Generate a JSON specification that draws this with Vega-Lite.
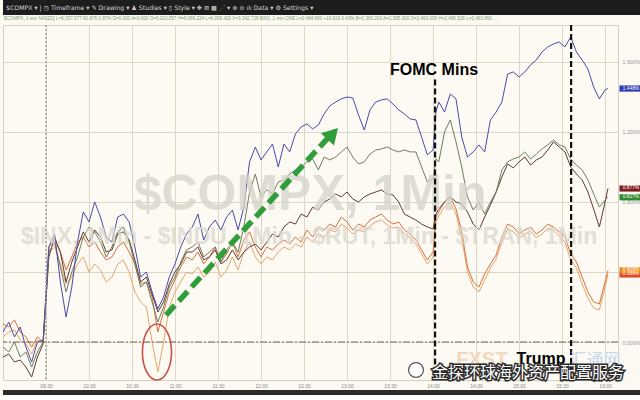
{
  "$schema": "https://vega.github.io/schema/vega-lite/v6.json",
  "background": "#fbf9f1",
  "padding": 0,
  "spacing": 0,
  "config": {"view": {"stroke": null}, "font": "Liberation Sans"},
  "vconcat": [
    {
      "width": 640, "height": 15,
      "view": {"fill": "#1d1d1d", "stroke": null},
      "data": {"values": [{"txt": "$COMPX ▾   |   ◷ Timeframe ▾      ✎ Drawing ▾      ♟ Studies ▾      ▯ Style ▾      ✥     ⊞     ▦      ⋰ ▾      ⊕    ⊖      ılı Data ▾      ⚙ Settings ▾"}]},
      "mark": {"type": "text", "align": "left", "baseline": "middle", "font": "DejaVu Sans", "fontSize": 6.2, "color": "#d6d6d6"},
      "encoding": {"text": {"field": "txt"}, "x": {"value": 3}, "y": {"value": 7.5}}
    },
    {
      "width": 640, "height": 8,
      "data": {"values": [{"txt": "$COMPX, 1 min  NASDQ  L=6,057.077  60.876  0.87%  D=0.000  A=0.000  O=6,020.557  H=6,069.224  L=6,009.420  V=3,342,728  $INX, 1 min  CME  L=2,484.690  +10.618  0.43%  B=2,383.200  A=2,385.300  O=2,466.000  H=2,496.526  L=2,463.860  ..."}]},
      "mark": {"type": "text", "align": "left", "baseline": "middle", "fontSize": 4.6, "color": "#7f9a72"},
      "encoding": {"text": {"field": "txt"}, "x": {"value": 1}, "y": {"value": 4}}
    },
    {
      "width": 615, "height": 355,
      "view": {"fill": "#fcfaf2", "stroke": "#d6d0bf"},
      "layer": [
        {
          "data": {"values": [
            {"t": -30, "COMPX": 0.057, "INX": -0.029, "INDU": -0.086, "TRAN": 0.103, "RUT": 0.029},
            {"t": -26, "COMPX": 0.114, "INX": -0.057, "INDU": -0.069, "TRAN": 0.086, "RUT": 0.057},
            {"t": -22, "COMPX": 0.029, "INX": 0, "INDU": -0.114, "TRAN": 0.126, "RUT": 0.069},
            {"t": -18, "COMPX": 0.086, "INX": -0.086, "INDU": -0.103, "TRAN": 0.057, "RUT": 0.011},
            {"t": -14, "COMPX": -0.029, "INX": -0.057, "INDU": -0.143, "TRAN": 0.029, "RUT": -0.011},
            {"t": -10, "COMPX": -0.114, "INX": -0.143, "INDU": -0.2, "TRAN": -0.029, "RUT": -0.069},
            {"t": -6, "COMPX": 0, "INX": -0.057, "INDU": -0.086, "TRAN": 0.029, "RUT": 0.011},
            {"t": -2, "COMPX": 0.011, "INX": 0, "INDU": -0.011, "TRAN": 0, "RUT": 0},
            {"t": 2, "COMPX": 0.543, "INX": 0.514, "INDU": 0.486, "TRAN": 0.543, "RUT": 0.514},
            {"t": 6, "COMPX": 0.617, "INX": 0.571, "INDU": 0.6, "TRAN": 0.583, "RUT": 0.543},
            {"t": 10, "COMPX": 0.343, "INX": 0.429, "INDU": 0.514, "TRAN": 0.514, "RUT": 0.446},
            {"t": 14, "COMPX": 0.143, "INX": 0.286, "INDU": 0.343, "TRAN": 0.411, "RUT": 0.331},
            {"t": 18, "COMPX": 0.314, "INX": 0.4, "INDU": 0.457, "TRAN": 0.486, "RUT": 0.371},
            {"t": 22, "COMPX": 0.571, "INX": 0.486, "INDU": 0.543, "TRAN": 0.571, "RUT": 0.446},
            {"t": 26, "COMPX": 0.743, "INX": 0.6, "INDU": 0.629, "TRAN": 0.6, "RUT": 0.486},
            {"t": 30, "COMPX": 0.686, "INX": 0.657, "INDU": 0.571, "TRAN": 0.543, "RUT": 0.4},
            {"t": 34, "COMPX": 0.8, "INX": 0.629, "INDU": 0.64, "TRAN": 0.571, "RUT": 0.446},
            {"t": 38, "COMPX": 0.714, "INX": 0.571, "INDU": 0.6, "TRAN": 0.514, "RUT": 0.411},
            {"t": 42, "COMPX": 0.6, "INX": 0.486, "INDU": 0.514, "TRAN": 0.469, "RUT": 0.343},
            {"t": 46, "COMPX": 0.571, "INX": 0.543, "INDU": 0.526, "TRAN": 0.486, "RUT": 0.371},
            {"t": 50, "COMPX": 0.714, "INX": 0.629, "INDU": 0.617, "TRAN": 0.543, "RUT": 0.446},
            {"t": 54, "COMPX": 0.731, "INX": 0.657, "INDU": 0.629, "TRAN": 0.571, "RUT": 0.469},
            {"t": 58, "COMPX": 0.686, "INX": 0.571, "INDU": 0.583, "TRAN": 0.514, "RUT": 0.4},
            {"t": 62, "COMPX": 0.543, "INX": 0.446, "INDU": 0.469, "TRAN": 0.446, "RUT": 0.286},
            {"t": 66, "COMPX": 0.371, "INX": 0.314, "INDU": 0.343, "TRAN": 0.331, "RUT": 0.229},
            {"t": 70, "COMPX": 0.4, "INX": 0.343, "INDU": 0.371, "TRAN": 0.343, "RUT": 0.2},
            {"t": 74, "COMPX": 0.286, "INX": 0.229, "INDU": 0.274, "TRAN": 0.257, "RUT": 0},
            {"t": 78, "COMPX": 0.189, "INX": 0.114, "INDU": 0.171, "TRAN": 0.057, "RUT": -0.171},
            {"t": 82, "COMPX": 0.257, "INX": 0.2, "INDU": 0.229, "TRAN": 0.171, "RUT": 0},
            {"t": 86, "COMPX": 0.371, "INX": 0.314, "INDU": 0.331, "TRAN": 0.286, "RUT": 0.2},
            {"t": 90, "COMPX": 0.446, "INX": 0.371, "INDU": 0.4, "TRAN": 0.354, "RUT": 0.286},
            {"t": 94, "COMPX": 0.543, "INX": 0.457, "INDU": 0.446, "TRAN": 0.429, "RUT": 0.343},
            {"t": 98, "COMPX": 0.617, "INX": 0.526, "INDU": 0.514, "TRAN": 0.486, "RUT": 0.4},
            {"t": 102, "COMPX": 0.657, "INX": 0.543, "INDU": 0.514, "TRAN": 0.469, "RUT": 0.389},
            {"t": 106, "COMPX": 0.731, "INX": 0.571, "INDU": 0.543, "TRAN": 0.514, "RUT": 0.429},
            {"t": 110, "COMPX": 0.583, "INX": 0.486, "INDU": 0.469, "TRAN": 0.446, "RUT": 0.371},
            {"t": 114, "COMPX": 0.657, "INX": 0.514, "INDU": 0.486, "TRAN": 0.486, "RUT": 0.4},
            {"t": 118, "COMPX": 0.697, "INX": 0.543, "INDU": 0.526, "TRAN": 0.543, "RUT": 0.457},
            {"t": 122, "COMPX": 0.64, "INX": 0.457, "INDU": 0.446, "TRAN": 0.457, "RUT": 0.371},
            {"t": 126, "COMPX": 0.714, "INX": 0.526, "INDU": 0.469, "TRAN": 0.503, "RUT": 0.411},
            {"t": 130, "COMPX": 0.754, "INX": 0.571, "INDU": 0.526, "TRAN": 0.571, "RUT": 0.486},
            {"t": 134, "COMPX": 0.64, "INX": 0.514, "INDU": 0.469, "TRAN": 0.486, "RUT": 0.411},
            {"t": 138, "COMPX": 0.771, "INX": 0.657, "INDU": 0.514, "TRAN": 0.583, "RUT": 0.514},
            {"t": 142, "COMPX": 1.029, "INX": 0.857, "INDU": 0.543, "TRAN": 0.629, "RUT": 0.571},
            {"t": 146, "COMPX": 1.114, "INX": 0.96, "INDU": 0.56, "TRAN": 0.543, "RUT": 0.486},
            {"t": 150, "COMPX": 1.04, "INX": 0.829, "INDU": 0.526, "TRAN": 0.486, "RUT": 0.446},
            {"t": 154, "COMPX": 1.086, "INX": 0.869, "INDU": 0.571, "TRAN": 0.543, "RUT": 0.486},
            {"t": 158, "COMPX": 1.131, "INX": 0.846, "INDU": 0.617, "TRAN": 0.526, "RUT": 0.469},
            {"t": 162, "COMPX": 1.0, "INX": 0.914, "INDU": 0.6, "TRAN": 0.56, "RUT": 0.514},
            {"t": 166, "COMPX": 1.131, "INX": 0.926, "INDU": 0.657, "TRAN": 0.583, "RUT": 0.543},
            {"t": 170, "COMPX": 1.086, "INX": 0.96, "INDU": 0.686, "TRAN": 0.56, "RUT": 0.526},
            {"t": 174, "COMPX": 1.189, "INX": 0.983, "INDU": 0.674, "TRAN": 0.6, "RUT": 0.56},
            {"t": 178, "COMPX": 1.229, "INX": 1.0, "INDU": 0.731, "TRAN": 0.571, "RUT": 0.543},
            {"t": 182, "COMPX": 1.246, "INX": 1.029, "INDU": 0.714, "TRAN": 0.64, "RUT": 0.6},
            {"t": 186, "COMPX": 1.217, "INX": 1.046, "INDU": 0.771, "TRAN": 0.6, "RUT": 0.571},
            {"t": 190, "COMPX": 1.24, "INX": 0.983, "INDU": 0.754, "TRAN": 0.657, "RUT": 0.617},
            {"t": 194, "COMPX": 1.303, "INX": 1.057, "INDU": 0.8, "TRAN": 0.64, "RUT": 0.6},
            {"t": 198, "COMPX": 1.349, "INX": 1.04, "INDU": 0.817, "TRAN": 0.674, "RUT": 0.64},
            {"t": 202, "COMPX": 1.371, "INX": 1.057, "INDU": 0.846, "TRAN": 0.657, "RUT": 0.629},
            {"t": 206, "COMPX": 1.389, "INX": 1.086, "INDU": 0.829, "TRAN": 0.714, "RUT": 0.674},
            {"t": 210, "COMPX": 1.4, "INX": 1.114, "INDU": 0.857, "TRAN": 0.686, "RUT": 0.651},
            {"t": 214, "COMPX": 1.394, "INX": 1.057, "INDU": 0.817, "TRAN": 0.64, "RUT": 0.617},
            {"t": 218, "COMPX": 1.297, "INX": 1.017, "INDU": 0.8, "TRAN": 0.674, "RUT": 0.64},
            {"t": 222, "COMPX": 1.211, "INX": 1.029, "INDU": 0.829, "TRAN": 0.657, "RUT": 0.629},
            {"t": 226, "COMPX": 1.326, "INX": 1.074, "INDU": 0.846, "TRAN": 0.697, "RUT": 0.663},
            {"t": 230, "COMPX": 1.371, "INX": 1.097, "INDU": 0.857, "TRAN": 0.714, "RUT": 0.686},
            {"t": 234, "COMPX": 1.383, "INX": 1.103, "INDU": 0.869, "TRAN": 0.731, "RUT": 0.697},
            {"t": 238, "COMPX": 1.389, "INX": 1.114, "INDU": 0.846, "TRAN": 0.697, "RUT": 0.669},
            {"t": 242, "COMPX": 1.36, "INX": 1.097, "INDU": 0.84, "TRAN": 0.674, "RUT": 0.651},
            {"t": 246, "COMPX": 1.326, "INX": 1.086, "INDU": 0.8, "TRAN": 0.686, "RUT": 0.657},
            {"t": 250, "COMPX": 1.303, "INX": 1.097, "INDU": 0.731, "TRAN": 0.64, "RUT": 0.617},
            {"t": 254, "COMPX": 1.274, "INX": 1.086, "INDU": 0.714, "TRAN": 0.617, "RUT": 0.594},
            {"t": 258, "COMPX": 1.269, "INX": 1.086, "INDU": 0.697, "TRAN": 0.583, "RUT": 0.56},
            {"t": 262, "COMPX": 1.171, "INX": 1.0, "INDU": 0.674, "TRAN": 0.526, "RUT": 0.503},
            {"t": 266, "COMPX": 1.069, "INX": 0.914, "INDU": 0.657, "TRAN": 0.469, "RUT": 0.446},
            {"t": 270, "COMPX": 1.097, "INX": 0.931, "INDU": 0.646, "TRAN": 0.514, "RUT": 0.486},
            {"t": 272, "COMPX": 1.314, "INX": 1.046, "INDU": 0.731, "TRAN": 0.714, "RUT": 0.686},
            {"t": 274, "COMPX": 1.371, "INX": 1.029, "INDU": 0.76, "TRAN": 0.743, "RUT": 0.72},
            {"t": 278, "COMPX": 1.314, "INX": 1.2, "INDU": 0.8, "TRAN": 0.8, "RUT": 0.771},
            {"t": 282, "COMPX": 1.417, "INX": 1.269, "INDU": 0.829, "TRAN": 0.829, "RUT": 0.8},
            {"t": 286, "COMPX": 1.389, "INX": 1.143, "INDU": 0.8, "TRAN": 0.76, "RUT": 0.731},
            {"t": 290, "COMPX": 1.171, "INX": 1.0, "INDU": 0.789, "TRAN": 0.629, "RUT": 0.594},
            {"t": 294, "COMPX": 1.057, "INX": 0.829, "INDU": 0.743, "TRAN": 0.429, "RUT": 0.4},
            {"t": 298, "COMPX": 1.086, "INX": 0.754, "INDU": 0.674, "TRAN": 0.343, "RUT": 0.314},
            {"t": 302, "COMPX": 1.126, "INX": 0.8, "INDU": 0.64, "TRAN": 0.314, "RUT": 0.286},
            {"t": 306, "COMPX": 1.086, "INX": 0.731, "INDU": 0.714, "TRAN": 0.389, "RUT": 0.354},
            {"t": 310, "COMPX": 1.269, "INX": 0.8, "INDU": 0.783, "TRAN": 0.446, "RUT": 0.423},
            {"t": 314, "COMPX": 1.314, "INX": 0.857, "INDU": 0.857, "TRAN": 0.497, "RUT": 0.474},
            {"t": 318, "COMPX": 1.371, "INX": 0.983, "INDU": 0.943, "TRAN": 0.6, "RUT": 0.571},
            {"t": 322, "COMPX": 1.531, "INX": 1.029, "INDU": 1.017, "TRAN": 0.674, "RUT": 0.646},
            {"t": 326, "COMPX": 1.543, "INX": 1.046, "INDU": 0.994, "TRAN": 0.657, "RUT": 0.629},
            {"t": 330, "COMPX": 1.514, "INX": 1.057, "INDU": 1.029, "TRAN": 0.617, "RUT": 0.594},
            {"t": 334, "COMPX": 1.543, "INX": 1.086, "INDU": 1.057, "TRAN": 0.64, "RUT": 0.617},
            {"t": 338, "COMPX": 1.583, "INX": 1.046, "INDU": 1.011, "TRAN": 0.657, "RUT": 0.634},
            {"t": 342, "COMPX": 1.611, "INX": 1.074, "INDU": 1.04, "TRAN": 0.617, "RUT": 0.594},
            {"t": 346, "COMPX": 1.657, "INX": 1.103, "INDU": 1.057, "TRAN": 0.64, "RUT": 0.617},
            {"t": 350, "COMPX": 1.686, "INX": 1.126, "INDU": 1.097, "TRAN": 0.674, "RUT": 0.651},
            {"t": 354, "COMPX": 1.703, "INX": 1.154, "INDU": 1.143, "TRAN": 0.657, "RUT": 0.64},
            {"t": 358, "COMPX": 1.714, "INX": 1.126, "INDU": 1.114, "TRAN": 0.629, "RUT": 0.606},
            {"t": 362, "COMPX": 1.686, "INX": 1.114, "INDU": 1.086, "TRAN": 0.6, "RUT": 0.571},
            {"t": 366, "COMPX": 1.743, "INX": 1.046, "INDU": 1.0, "TRAN": 0.503, "RUT": 0.469},
            {"t": 370, "COMPX": 1.657, "INX": 1.011, "INDU": 0.96, "TRAN": 0.457, "RUT": 0.423},
            {"t": 374, "COMPX": 1.611, "INX": 0.983, "INDU": 0.926, "TRAN": 0.371, "RUT": 0.331},
            {"t": 378, "COMPX": 1.56, "INX": 0.926, "INDU": 0.857, "TRAN": 0.286, "RUT": 0.251},
            {"t": 382, "COMPX": 1.457, "INX": 0.846, "INDU": 0.76, "TRAN": 0.229, "RUT": 0.194},
            {"t": 386, "COMPX": 1.389, "INX": 0.771, "INDU": 0.657, "TRAN": 0.217, "RUT": 0.183},
            {"t": 390, "COMPX": 1.44, "INX": 0.811, "INDU": 0.8, "TRAN": 0.343, "RUT": 0.314},
            {"t": 392, "COMPX": 1.448, "INX": 0.827, "INDU": 0.877, "TRAN": 0.409, "RUT": 0.386}
          ]},
          "transform": [{"fold": ["RUT", "TRAN", "INDU", "INX", "COMPX"], "as": ["s", "v"]}],
          "mark": {"type": "line", "strokeWidth": 1},
          "encoding": {
            "x": {"field": "t", "type": "quantitative", "scale": {"domain": [-30, 399], "nice": false, "zero": false},
                  "axis": {"orient": "bottom", "values": [0, 30, 60, 90, 120, 150, 180, 210, 240, 270, 300, 330, 360, 390],
                           "labelExpr": "format(floor((datum.value+570)/60),'02d') + ':' + format((datum.value+570)%60,'02d')",
                           "grid": true, "gridColor": "#ddd7c6", "gridWidth": 1, "ticks": false, "domain": false,
                           "labelFontSize": 5, "labelColor": "#8c8c8c", "labelPadding": 3, "title": null}},
            "y": {"field": "v", "type": "quantitative", "scale": {"domain": [-0.217, 1.811], "nice": false, "zero": false},
                  "axis": {"orient": "right", "values": [0, 0.2, 0.4, 0.6, 0.8, 1, 1.2, 1.4, 1.6, 1.8],
                           "labelExpr": "format(datum.value,'.3f') + '%'", "labelOverlap": false,
                           "grid": true, "gridColor": "#ddd7c6", "gridWidth": 1, "ticks": false, "domain": false,
                           "labelFontSize": 5.3, "labelColor": "#9a9a9a", "labelPadding": 4, "title": null}},
            "stroke": {"field": "s", "type": "nominal",
                       "scale": {"domain": ["COMPX", "INDU", "INX", "TRAN", "RUT"], "range": ["#4b4ba8", "#5e3a32", "#6f7d62", "#d9703c", "#e8a56c"]},
                       "legend": null}
          }
        },
        {
          "data": {"values": [{"t": 184.2, "v": 0.754, "txt": "$COMPX, 1Min"}]},
          "mark": {"type": "text", "fontSize": 50, "fontWeight": "bold", "color": "#d6d3ca", "opacity": 0.75, "align": "center", "baseline": "alphabetic"},
          "encoding": {
            "x": {"field": "t", "type": "quantitative", "axis": {"title": null}},
            "y": {"field": "v", "type": "quantitative", "axis": {"title": null}},
            "text": {"field": "txt"}
          }
        },
        {
          "data": {"values": [{"t": 183.5, "v": 0.56, "txt": "$INX, 1Min - $INDU, 1Min - $RUT, 1Min - $TRAN, 1Min"}]},
          "mark": {"type": "text", "fontSize": 23, "fontWeight": "bold", "color": "#dad7ce", "opacity": 0.75, "align": "center", "baseline": "alphabetic"},
          "encoding": {
            "x": {"field": "t", "type": "quantitative", "axis": {"title": null}},
            "y": {"field": "v", "type": "quantitative", "axis": {"title": null}},
            "text": {"field": "txt"}
          }
        },
        {
          "data": {"values": [{"t": 0}]},
          "mark": {"type": "rule", "stroke": "#a3a3a3", "strokeWidth": 1.5, "strokeDash": [2, 2]},
          "encoding": {"x": {"field": "t", "type": "quantitative", "axis": {"title": null}}}
        },
        {
          "data": {"values": [{"v": 0}]},
          "mark": {"type": "rule", "stroke": "#76645a", "strokeWidth": 1, "strokeDash": [7, 2, 2, 2]},
          "encoding": {"y": {"field": "v", "type": "quantitative", "axis": {"title": null}}}
        },
        {
          "data": {"values": [{"t": 83.7, "v": 0.154}, {"t": 196.7, "v": 1.166}]},
          "mark": {"type": "line", "stroke": "#2f9e3a", "strokeWidth": 5.5, "strokeDash": [13, 6]},
          "encoding": {
            "x": {"field": "t", "type": "quantitative", "axis": {"title": null}},
            "y": {"field": "v", "type": "quantitative", "axis": {"title": null}}
          }
        },
        {
          "data": {"values": [{"t": 200, "v": 1.19}]},
          "mark": {"type": "point", "shape": "triangle-up", "angle": 43, "size": 324, "filled": true, "color": "#2f9e3a", "opacity": 1},
          "encoding": {
            "x": {"field": "t", "type": "quantitative", "axis": {"title": null}},
            "y": {"field": "v", "type": "quantitative", "axis": {"title": null}}
          }
        },
        {
          "data": {"values": [{"t": 77.4, "v": -0.057}]},
          "mark": {"type": "point", "shape": "M-0.52,0C-0.52,-0.552,-0.287,-1,0,-1C0.287,-1,0.52,-0.552,0.52,0C0.52,0.552,0.287,1,0,1C-0.287,1,-0.52,0.552,-0.52,0Z", "size": 3136, "filled": false, "stroke": "#c9534a", "strokeWidth": 1.6, "opacity": 1},
          "encoding": {
            "x": {"field": "t", "type": "quantitative", "axis": {"title": null}},
            "y": {"field": "v", "type": "quantitative", "axis": {"title": null}}
          }
        },
        {
          "data": {"values": [{"t": 271.4, "v": 1.5, "v2": -0.217}]},
          "mark": {"type": "rule", "stroke": "#111111", "strokeWidth": 2.2, "strokeDash": [6, 3]},
          "encoding": {
            "x": {"field": "t", "type": "quantitative", "axis": {"title": null}},
            "y": {"field": "v", "type": "quantitative", "axis": {"title": null}},
            "y2": {"field": "v2"}
          }
        },
        {
          "data": {"values": [{"t": 366.3}]},
          "mark": {"type": "rule", "stroke": "#111111", "strokeWidth": 2.2, "strokeDash": [6, 3]},
          "encoding": {"x": {"field": "t", "type": "quantitative", "axis": {"title": null}}}
        },
        {
          "data": {"values": [{"t": 304, "v": -0.137, "txt": "FXST"}]},
          "mark": {"type": "text", "fontSize": 20, "fontWeight": "bold", "color": "#f0d9bf", "align": "center", "baseline": "alphabetic"},
          "encoding": {
            "x": {"field": "t", "type": "quantitative", "axis": {"title": null}},
            "y": {"field": "v", "type": "quantitative", "axis": {"title": null}},
            "text": {"field": "txt"}
          }
        },
        {
          "data": {"values": [{"t": 383, "v": -0.137, "txt": "汇通网"}]},
          "mark": {"type": "text", "fontSize": 17, "font": "Noto Sans CJK SC", "color": "#c8d7ec", "align": "center", "baseline": "alphabetic"},
          "encoding": {
            "x": {"field": "t", "type": "quantitative", "axis": {"title": null}},
            "y": {"field": "v", "type": "quantitative", "axis": {"title": null}},
            "text": {"field": "txt"}
          }
        },
        {
          "data": {"values": [{"t": 270.7, "v": 1.526, "txt": "FOMC Mins"}, {"t": 345.3, "v": -0.126, "txt": "Trump"}]},
          "mark": {"type": "text", "fontSize": 16, "fontWeight": "bold", "color": "#000000", "align": "center", "baseline": "alphabetic"},
          "encoding": {
            "x": {"field": "t", "type": "quantitative", "axis": {"title": null}},
            "y": {"field": "v", "type": "quantitative", "axis": {"title": null}},
            "text": {"field": "txt"}
          }
        },
        {
          "data": {"values": [{"t": 258.1, "v": -0.16}]},
          "mark": {"type": "point", "shape": "circle", "size": 220, "filled": true, "fill": "#ffffff", "stroke": "#555555", "strokeWidth": 1.2, "opacity": 1},
          "encoding": {
            "x": {"field": "t", "type": "quantitative", "axis": {"title": null}},
            "y": {"field": "v", "type": "quantitative", "axis": {"title": null}}
          }
        },
        {
          "data": {"values": [{"t": 336.3, "v": -0.205, "txt": "金探环球海外资产配置服务"}]},
          "mark": {"type": "text", "fontSize": 16, "font": "Noto Sans CJK SC", "color": "#2a2a2a", "stroke": "#2a2a2a", "strokeWidth": 3, "align": "center", "baseline": "alphabetic"},
          "encoding": {
            "x": {"field": "t", "type": "quantitative", "axis": {"title": null}},
            "y": {"field": "v", "type": "quantitative", "axis": {"title": null}},
            "text": {"field": "txt"}
          }
        },
        {
          "data": {"values": [{"t": 336.3, "v": -0.205, "txt": "金探环球海外资产配置服务"}]},
          "mark": {"type": "text", "fontSize": 16, "font": "Noto Sans CJK SC", "color": "#ffffff", "align": "center", "baseline": "alphabetic"},
          "encoding": {
            "x": {"field": "t", "type": "quantitative", "axis": {"title": null}},
            "y": {"field": "v", "type": "quantitative", "axis": {"title": null}},
            "text": {"field": "txt"}
          }
        },
        {
          "data": {"values": [
            {"s": "COMPX", "t": 392, "v": 1.448, "lab": "1.448%"},
            {"s": "INDU", "t": 392, "v": 0.877, "lab": "0.877%"},
            {"s": "INX", "t": 392, "v": 0.827, "lab": "0.827%"},
            {"s": "RUT", "t": 392, "v": 0.386, "lab": "0.386%"},
            {"s": "TRAN", "t": 392, "v": 0.409, "lab": "0.409%"}
          ]},
          "mark": {"type": "point", "shape": "M-1,-0.27H1V0.27H-1Z", "size": 529, "filled": true, "opacity": 1, "xOffset": 23},
          "encoding": {
            "x": {"field": "t", "type": "quantitative", "axis": {"title": null}},
            "y": {"field": "v", "type": "quantitative", "axis": {"title": null}},
            "fill": {"field": "s", "type": "nominal",
                     "scale": {"domain": ["COMPX", "INDU", "INX", "TRAN", "RUT"], "range": ["#2f3db5", "#7e2020", "#2e8b2e", "#f08a1c", "#dc4b25"]},
                     "legend": null}
          }
        },
        {
          "data": {"values": [
            {"t": 392, "v": 1.448, "lab": "1.448%"},
            {"t": 392, "v": 0.877, "lab": "0.877%"},
            {"t": 392, "v": 0.827, "lab": "0.827%"},
            {"t": 392, "v": 0.386, "lab": "0.386%"},
            {"t": 392, "v": 0.409, "lab": "0.409%"}
          ]},
          "mark": {"type": "text", "fontSize": 4.8, "color": "#ffffff", "align": "center", "baseline": "middle", "xOffset": 23},
          "encoding": {
            "x": {"field": "t", "type": "quantitative", "axis": {"title": null}},
            "y": {"field": "v", "type": "quantitative", "axis": {"title": null}},
            "text": {"field": "lab"}
          }
        }
      ]
    },
    {
      "width": 640, "height": 5,
      "view": {"fill": "#2b2b2b", "stroke": null},
      "data": {"values": [{}]},
      "mark": {"type": "point", "opacity": 0}
    },
    {
      "width": 640, "height": 12,
      "view": {"fill": "#ffffff", "stroke": null},
      "data": {"values": [{}]},
      "mark": {"type": "point", "opacity": 0}
    }
  ]
}
